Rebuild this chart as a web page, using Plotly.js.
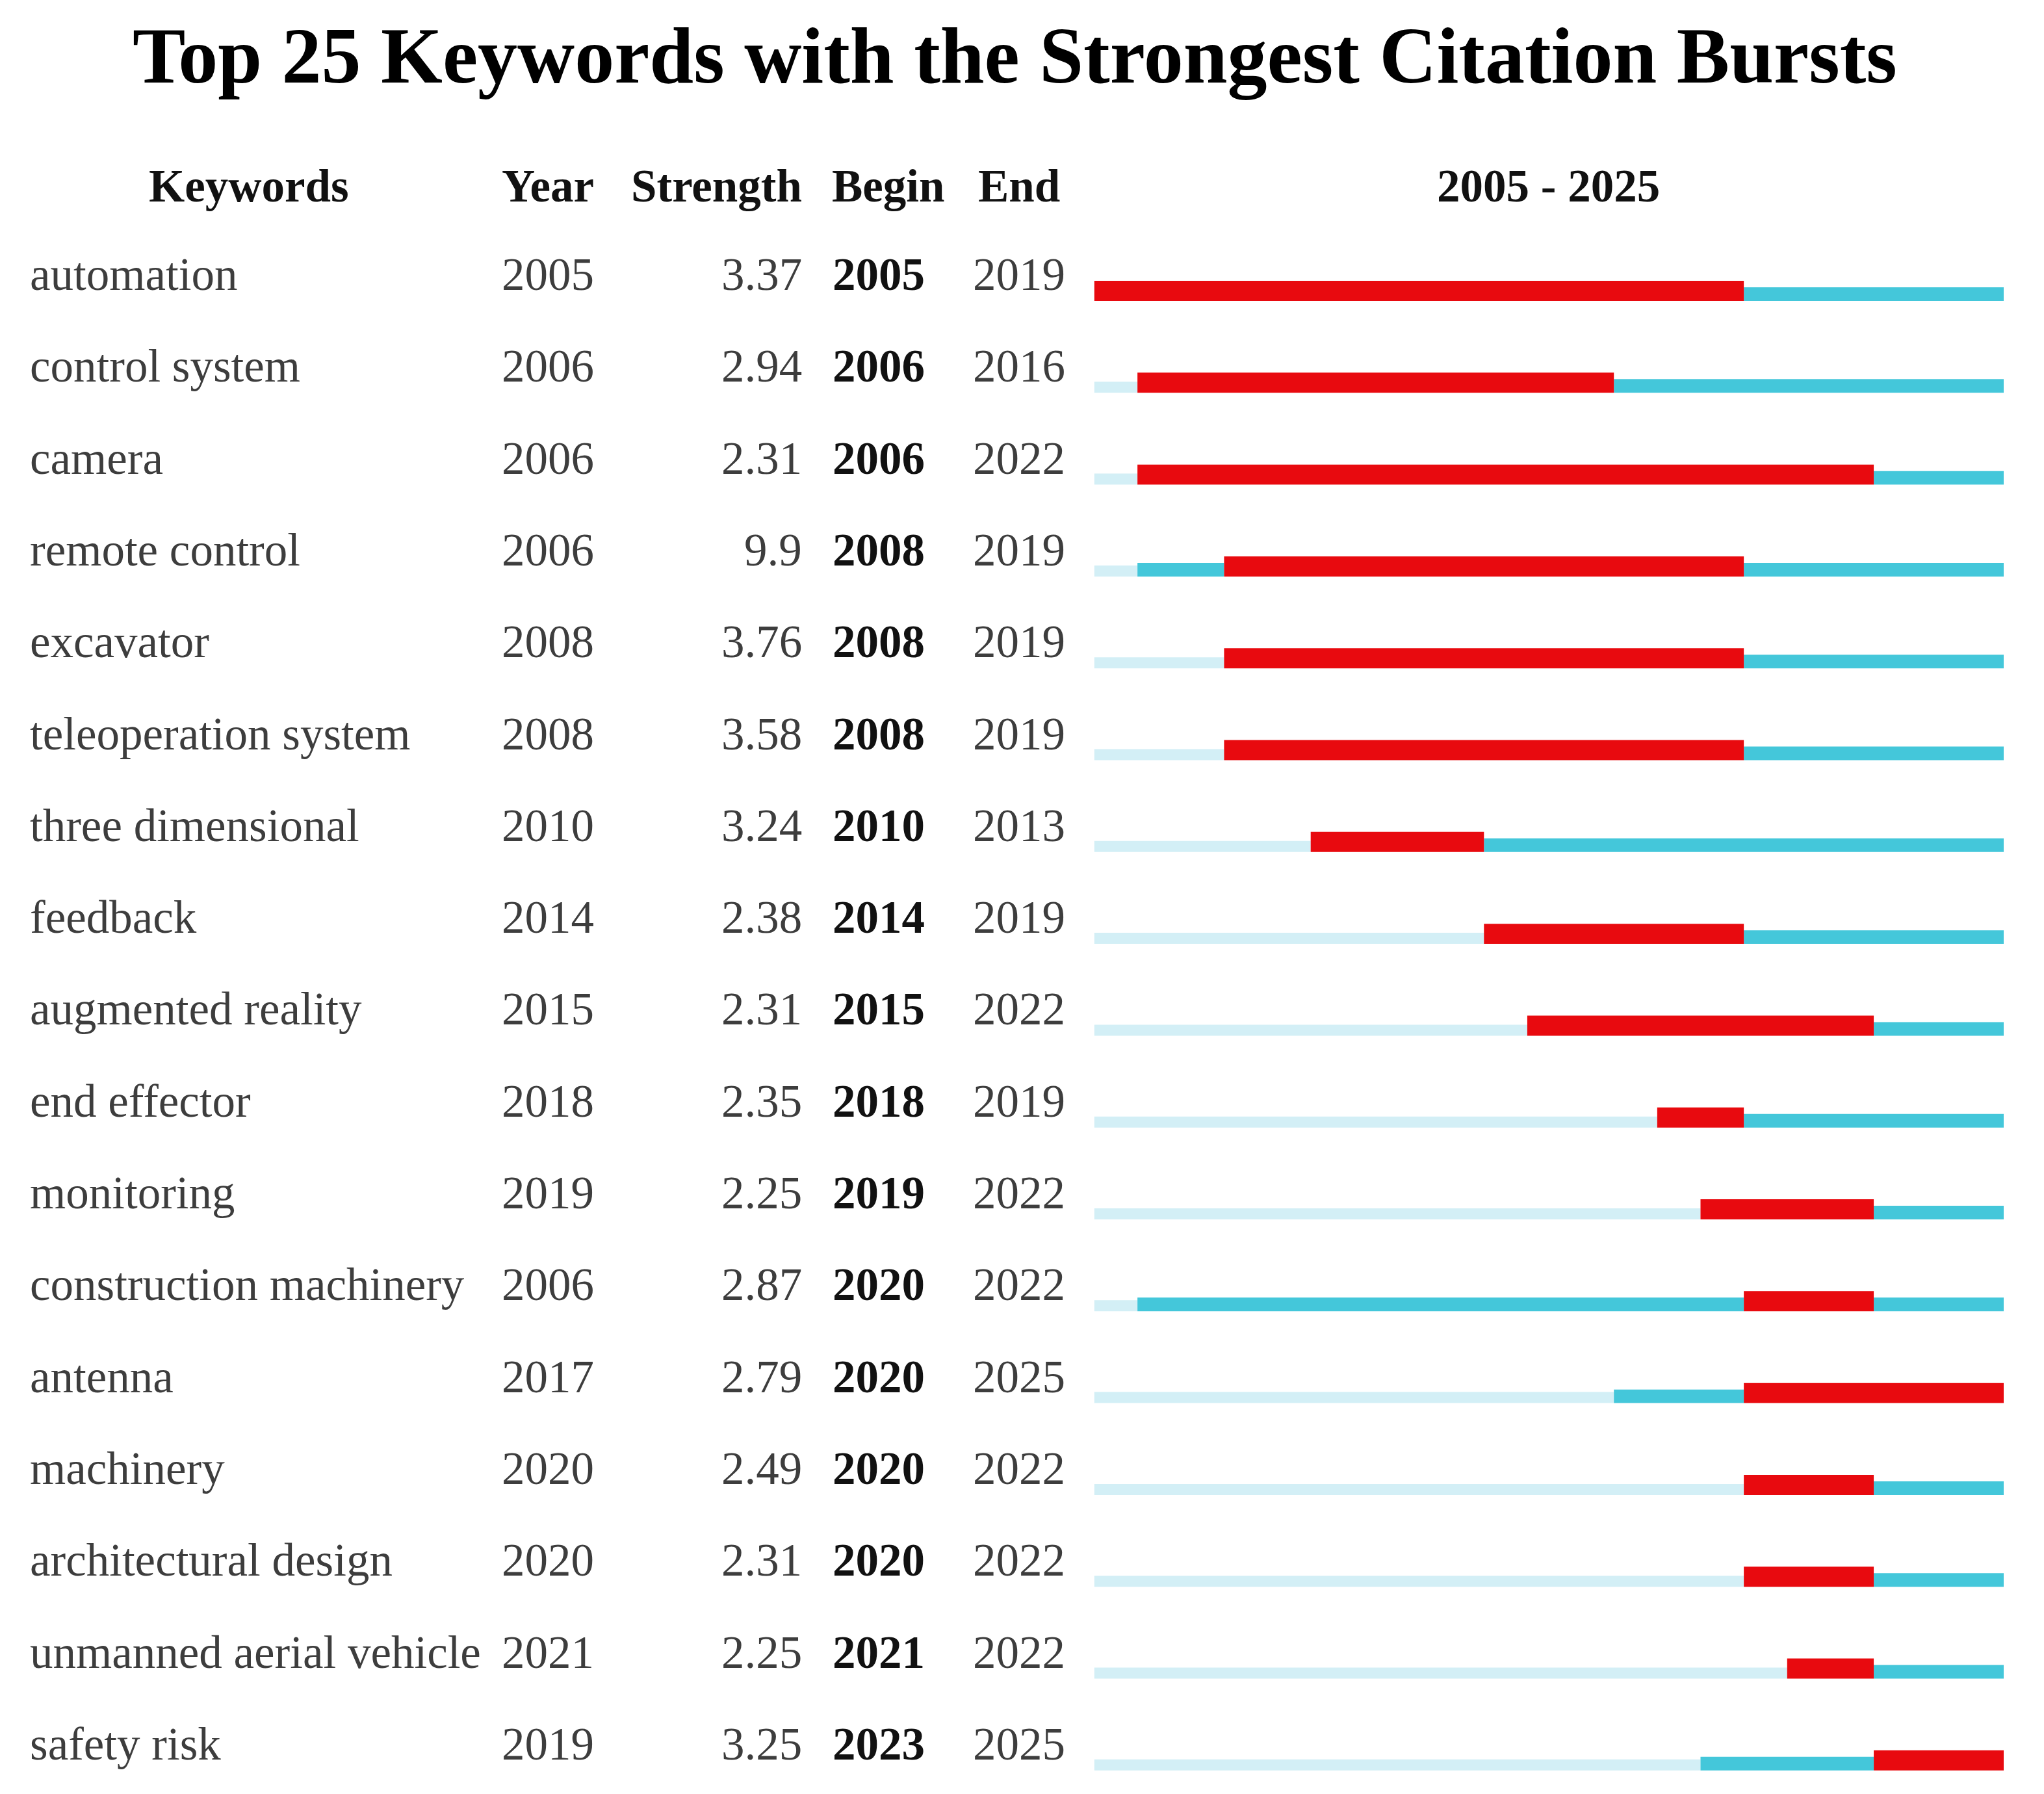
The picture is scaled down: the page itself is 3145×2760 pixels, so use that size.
<!DOCTYPE html>
<html>
<head>
<meta charset="utf-8">
<script src="https://cdn.plot.ly/plotly-3.0.1.min.js"></script>
<style>html,body{margin:0;padding:0;background:#fff;}</style>
</head>
<body>
<div id="chart" style="width:3145px;height:2760px;"></div>
<script>
// ---------------- data ----------------
const keywords = ["automation", "control system", "camera", "remote control", "excavator",
  "teleoperation system", "three dimensional", "feedback", "augmented reality", "end effector",
  "monitoring", "construction machinery", "antenna", "machinery", "architectural design",
  "unmanned aerial vehicle", "safety risk"];
const firstYear = [2005, 2006, 2006, 2006, 2008, 2008, 2010, 2014, 2015, 2018, 2019, 2006, 2017, 2020, 2020, 2021, 2019];
const strength = [3.37, 2.94, 2.31, 9.9, 3.76, 3.58, 3.24, 2.38, 2.31, 2.35, 2.25, 2.87, 2.79, 2.49, 2.31, 2.25, 3.25];
const burstBegin = [2005, 2006, 2006, 2008, 2008, 2008, 2010, 2014, 2015, 2018, 2019, 2020, 2020, 2020, 2020, 2021, 2023];
const burstEnd = [2019, 2016, 2022, 2019, 2019, 2019, 2013, 2019, 2022, 2019, 2022, 2022, 2025, 2022, 2022, 2022, 2025];
const spanStart = 2005;
const spanEnd = 2025;
const columnHeaders = ["Keywords", "Year", "Strength", "Begin", "End"];
const chartTitle = "Top 25 Keywords with the Strongest Citation Bursts";

// ---------------- layout helpers ----------------
const W = 3145, H = 2760;
const FONT = '"Liberation Serif", "Times New Roman", Times, serif';
const px = v => v / W;          // horizontal pixel -> paper
const py = v => 1 - v / H;      // vertical pixel -> paper

const BOTTOM = 0.29;            // bar bottom offset (category units)
const RED_W = 0.219, CYAN_W = 0.148, LIGHT_W = 0.12;

function barTrace(base, len, color, width) {
  return {
    type: 'bar', orientation: 'h',
    y: keywords, x: len, base: base,
    width: width, offset: BOTTOM - width,
    marker: {color: color, line: {width: 0}},
    hoverinfo: 'skip', showlegend: false
  };
}

const lightLen = firstYear.map(y => y - spanStart);
const preLen = burstBegin.map((b, i) => b - firstYear[i]);
const postBase = burstEnd.map(e => e + 1);
const postLen = burstEnd.map(e => spanEnd - e);
const redLen = burstBegin.map((b, i) => burstEnd[i] + 1 - b);

const traces = [
  barTrace(keywords.map(() => spanStart), lightLen, '#d3eff6', LIGHT_W),
  barTrace(firstYear, preLen, '#44c7da', CYAN_W),
  barTrace(postBase, postLen, '#44c7da', CYAN_W),
  barTrace(burstBegin, redLen, '#e80a0f', RED_W)
];

const bodyFont = {family: FONT, size: 71, color: '#3d3d3d'};
const boldFont = {family: FONT, size: 71, color: '#111111'};
const headFont = {family: FONT, size: 71, color: '#111111'};

const annotations = [];
// title
annotations.push({text: '<b>' + chartTitle + '</b>', xref: 'paper', yref: 'paper',
  x: px(1561), y: py(86), xanchor: 'center', yanchor: 'middle', showarrow: false,
  font: {family: FONT, size: 122, color: '#000'}});
// headers
const headerPos = [
  {x: 383, anchor: 'center'}, {x: 770, anchor: 'left'}, {x: 1236, anchor: 'right'},
  {x: 1278, anchor: 'left'}, {x: 1568, anchor: 'center'}];
columnHeaders.forEach((h, i) => annotations.push({
  text: '<b>' + h + '</b>', xref: 'paper', yref: 'paper', x: px(headerPos[i].x), y: py(286),
  xanchor: headerPos[i].anchor, yanchor: 'middle', showarrow: false, font: headFont}));
annotations.push({text: '<b>' + spanStart + ' - ' + spanEnd + '</b>', xref: 'paper', yref: 'paper',
  x: px(2382), y: py(286), xanchor: 'center', yanchor: 'middle', showarrow: false, font: headFont});

// rows
keywords.forEach((k, i) => {
  const base = {yref: 'y', y: k, xref: 'paper', yanchor: 'middle', showarrow: false};
  annotations.push(Object.assign({}, base, {text: k, x: px(44), xanchor: 'left', font: bodyFont}));
  annotations.push(Object.assign({}, base, {text: String(firstYear[i]), x: px(770), xanchor: 'left', font: bodyFont}));
  annotations.push(Object.assign({}, base, {text: String(strength[i]), x: px(1236), xanchor: 'right', font: bodyFont}));
  annotations.push(Object.assign({}, base, {text: '<b>' + burstBegin[i] + '</b>', x: px(1279), xanchor: 'left', font: boldFont}));
  annotations.push(Object.assign({}, base, {text: String(burstEnd[i]), x: px(1568), xanchor: 'center', font: bodyFont}));
});

const rowTop = 422, rowStep = 141.3;
const yTop = rowTop - rowStep / 2;
const yBot = rowTop + (keywords.length - 1) * rowStep + rowStep / 2;

const layout = {
  width: W, height: H,
  margin: {l: 0, r: 0, t: 0, b: 0, pad: 0},
  paper_bgcolor: '#ffffff', plot_bgcolor: 'rgba(0,0,0,0)',
  barmode: 'overlay',
  showlegend: false,
  xaxis: {range: [spanStart, spanEnd + 1], domain: [px(1683.5), px(3083)],
    showgrid: false, zeroline: false, showline: false, showticklabels: false, ticks: ''},
  yaxis: {type: 'category', categoryorder: 'array', categoryarray: keywords,
    range: [keywords.length - 0.5, -0.5], domain: [py(yBot), py(yTop)],
    showgrid: false, zeroline: false, showline: false, showticklabels: false, ticks: ''},
  annotations: annotations,
  font: {family: FONT}
};

Plotly.newPlot('chart', traces, layout, {displayModeBar: false, staticPlot: true});
</script>
</body>
</html>
